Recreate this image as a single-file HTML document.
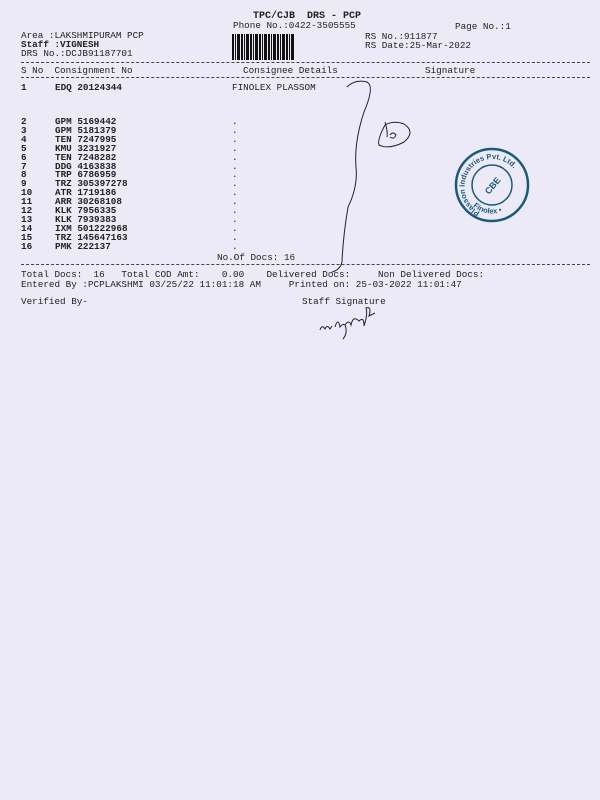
<!DOCTYPE html>
<html><head><meta charset="utf-8"><style>
html,body{margin:0;padding:0}
body{width:600px;height:800px;background:#eceaf7;position:relative;overflow:hidden;font-family:"Liberation Mono",monospace;font-size:9.3px;color:#222}
.t{position:absolute;white-space:pre;line-height:9px}
.b{font-weight:bold}
.d{position:absolute;left:21px;width:569px;height:0;border-top:1px dashed #444}
</style></head><body>
<div class="t b" style="left:253px;top:12px;font-size:10px">TPC/CJB  DRS - PCP</div>
<div class="t" style="left:233px;top:21px">Phone No.:0422-3505555</div>
<div class="t" style="left:455px;top:22px">Page No.:1</div>
<div class="t" style="left:21px;top:31px">Area :LAKSHMIPURAM PCP</div>
<div class="t b" style="left:21px;top:40px">Staff :VIGNESH</div>
<div class="t" style="left:21px;top:49px">DRS No.:DCJB91187701</div>
<div class="t" style="left:365px;top:32px">RS No.:911877</div>
<div class="t" style="left:365px;top:41px">RS Date:25-Mar-2022</div>
<div style="position:absolute;left:232px;top:34px;width:62px;height:26px;background:repeating-linear-gradient(90deg,#111 0 2px,#eceaf7 2px 3px,#111 3px 4px,#eceaf7 4px 5px,#111 5px 8px,#eceaf7 8px 9px)"></div>
<div class="d" style="top:62px"></div>
<div class="t" style="left:21px;top:66px">S No  Consignment No</div>
<div class="t" style="left:243px;top:66px">Consignee Details</div>
<div class="t" style="left:425px;top:66px">Signature</div>
<div class="d" style="top:77px"></div>
<div class="t b" style="left:21px;top:83px">1</div>
<div class="t b" style="left:55px;top:83px">EDQ 20124344</div>
<div class="t" style="left:232px;top:83px">FINOLEX PLASSOM</div>
<div class="t b" style="left:21px;top:118px;line-height:8.9px">2
3
4
5
6
7
8
9
10
11
12
13
14
15
16</div>
<div class="t b" style="left:55px;top:118px;line-height:8.9px">GPM 5169442
GPM 5181379
TEN 7247995
KMU 3231927
TEN 7248282
DDG 4163838
TRP 6786959
TRZ 305397278
ATR 1719186
ARR 30268108
KLK 7956335
KLK 7939383
IXM 501222968
TRZ 145647163
PMK 222137</div>
<div class="t" style="left:232px;top:118px;line-height:8.9px">.
.
.
.
.
.
.
.
.
.
.
.
.
.
.
.</div>
<div class="t" style="left:217px;top:253px">No.Of Docs: 16</div>
<div class="d" style="top:264px"></div>
<div class="t" style="left:21px;top:270px">Total Docs:  16   Total COD Amt:    0.00    Delivered Docs:     Non Delivered Docs:</div>
<div class="t" style="left:21px;top:280px">Entered By :PCPLAKSHMI 03/25/22 11:01:18 AM     Printed on: 25-03-2022 11:01:47</div>
<div class="t" style="left:21px;top:297px">Verified By-</div>
<div class="t" style="left:302px;top:297px">Staff Signature</div>
<svg style="position:absolute;left:0;top:0" width="600" height="800">
<g fill="none" stroke="#223" stroke-width="1">
<path d="M347 87 q8 -8 20 -5 q8 4 -3 30 q-10 30 -8 55 q2 20 -8 40 q-5 30 -6 55 q-2 8 -10 10"/>
<path d="M385 125 q-8 15 -6 20 q10 5 25 -3 q12 -10 0 -18 q-10 -4 -19 1 M385 122 q3 10 2 15 M390 135 q3 -4 6 0 q-2 5 -6 2"/>
<path d="M320 330 q2 -6 5 -1 q2 -5 5 0 l2 -3 M335 327 q3 -10 5 0 q3 -4 5 -2 q4 -6 6 0 q2 -10 8 -4 q5 -5 5 5 q4 -12 2 -18 q6 -2 3 8 l6 -3 M345 325 q3 8 -2 14"/>
</g>
<g stroke="#1b5a7a" fill="none">
<circle cx="492" cy="185" r="36" stroke-width="2.5"/>
<circle cx="492" cy="185" r="20" stroke-width="1.5"/>
</g>
<text x="492" y="189" font-family="Liberation Sans,sans-serif" font-size="9" font-weight="bold" fill="#1b5a7a" text-anchor="middle" transform="rotate(-50 492 185)">CBE</text>
<path id="arc" d="M480 212 A28 28 0 1 1 519 196" fill="none"/>
<text font-family="Liberation Sans,sans-serif" font-size="7.5" font-weight="bold" fill="#1b5a7a"><textPath href="#arc">Plasson Industries Pvt. Ltd.</textPath></text>
<path id="arc2" d="M468 200 A28 28 0 0 0 516 200" fill="none"/>
<text font-family="Liberation Sans,sans-serif" font-size="7.5" font-weight="bold" fill="#1b5a7a"><textPath href="#arc2" startOffset="8">Finolex •</textPath></text>
</svg>
</body></html>
